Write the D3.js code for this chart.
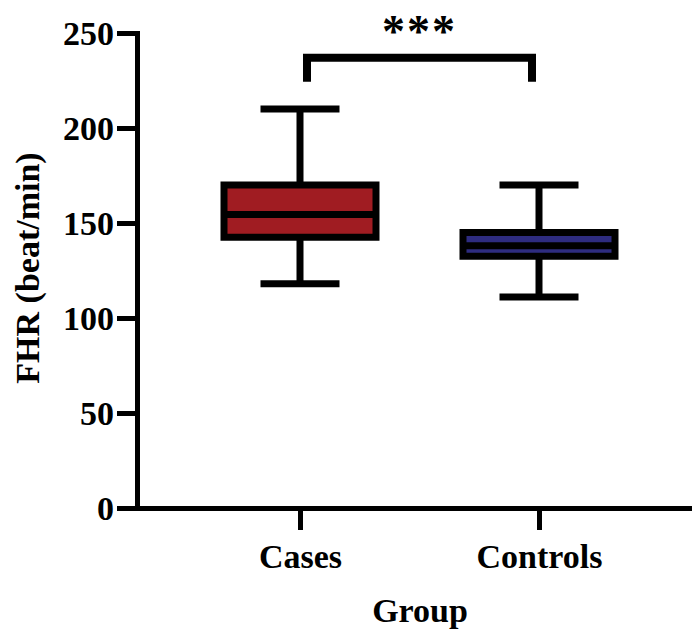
<!DOCTYPE html>
<html>
  <head>
    <style>
      html,
      body { margin: 0; background: #fff; }
      text { font-family: "Liberation Serif", "Times New Roman", serif; font-weight: bold; fill: #000; }
    </style>
    <script src="https://d3js.org/d3.v7.js"></script>
  </head>
  <body>
    <svg class="chart"></svg>

    <script>
      const width = 692;
      const height = 629;

      // box summaries (beat/min)
      const groups = ['Cases', 'Controls'];
      const whiskerLow = [118, 111];
      const q1 = [142.5, 132.5];
      const median = [154.5, 138];
      const q3 = [170, 145];
      const whiskerHigh = [210, 170];
      const fills = ['#a01c22', '#2e2c80'];
      const yTicks = [0, 50, 100, 150, 200, 250];

      const stroke = 7;
      const boxWidth = 152;
      const capWidth = 79;

      const svg = d3.select('svg')
        .attr('width', width)
        .attr('height', height);

      const y = d3.scaleLinear().domain([0, 250]).range([508, 33]);
      const x = d3.scalePoint().domain(groups).range([137, 702]).padding(0.682);

      // y axis
      const yAxis = svg.append('g')
        .attr('transform', 'translate(137,0)')
        .call(d3.axisLeft(y).tickValues(yTicks).tickSize(20).tickSizeOuter(0).tickPadding(3));

      // x axis
      const xAxis = svg.append('g')
        .attr('transform', 'translate(0,508)')
        .call(d3.axisBottom(x).tickSize(22).tickSizeOuter(0).tickPadding(14));

      [yAxis, xAxis].forEach((g) => {
        g.select('.domain').attr('stroke', '#000').attr('stroke-width', 5).attr('stroke-linecap', 'square');
        g.selectAll('.tick line').attr('stroke', '#000').attr('stroke-width', 5);
        g.selectAll('.tick text').style('font-size', '34px').attr('fill', '#000');
      });
      yAxis.selectAll('.tick text').attr('dy', '0.34em');

      // axis titles
      svg.append('text')
        .attr('x', 420)
        .attr('y', 622)
        .attr('text-anchor', 'middle')
        .style('font-size', '34px')
        .text('Group');

      svg.append('text')
        .attr('transform', 'translate(39,268) rotate(-90)')
        .attr('text-anchor', 'middle')
        .style('font-size', '34px')
        .text('FHR (beat/min)');

      const boxes = svg.selectAll('g.box')
        .data(groups)
        .join('g')
        .attr('class', 'box');

      // whiskers
      boxes.append('line')
        .attr('x1', (d) => x(d)).attr('x2', (d) => x(d))
        .attr('y1', (d, i) => y(whiskerHigh[i]))
        .attr('y2', (d, i) => y(whiskerLow[i]))
        .attr('stroke', '#000').attr('stroke-width', stroke);

      [whiskerLow, whiskerHigh].forEach((vals) => {
        boxes.append('line')
          .attr('x1', (d) => x(d) - capWidth / 2).attr('x2', (d) => x(d) + capWidth / 2)
          .attr('y1', (d, i) => y(vals[i])).attr('y2', (d, i) => y(vals[i]))
          .attr('stroke', '#000').attr('stroke-width', stroke);
      });

      // box
      boxes.append('rect')
        .attr('x', (d) => x(d) - boxWidth / 2)
        .attr('width', boxWidth)
        .attr('y', (d, i) => y(q3[i]))
        .attr('height', (d, i) => y(q1[i]) - y(q3[i]))
        .attr('fill', (d, i) => fills[i])
        .attr('stroke', '#000').attr('stroke-width', stroke);

      // median
      boxes.append('line')
        .attr('x1', (d) => x(d) - boxWidth / 2).attr('x2', (d) => x(d) + boxWidth / 2)
        .attr('y1', (d, i) => y(median[i])).attr('y2', (d, i) => y(median[i]))
        .attr('stroke', '#000').attr('stroke-width', stroke);

      // significance bracket
      const bx0 = x('Cases') + 7;
      const bx1 = x('Controls') - 7;
      const by = y(237);
      svg.append('path')
        .attr('d', `M${bx0},${by + 24}V${by}H${bx1}V${by + 24}`)
        .attr('fill', 'none')
        .attr('stroke', '#000').attr('stroke-width', 8);

      svg.append('text')
        .attr('x', (bx0 + bx1) / 2)
        .attr('y', 47)
        .attr('text-anchor', 'middle')
        .style('font-size', '46px')
        .style('letter-spacing', '2px')
        .text('***');
    </script>
  </body>
</html>
